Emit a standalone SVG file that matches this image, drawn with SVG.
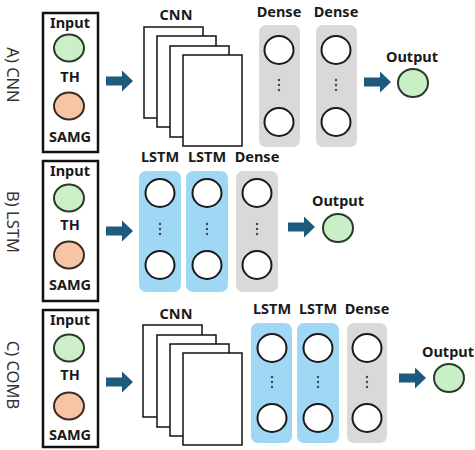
<svg xmlns="http://www.w3.org/2000/svg" xmlns:xlink="http://www.w3.org/1999/xlink" width="475" height="450" viewBox="0 0 475 450">
<style>
.t{font-family:"Noto Sans","Open Sans","Liberation Sans",sans-serif;font-weight:bold;font-size:14.5px;fill:#1a1a1a;text-anchor:middle}
.side{font-family:"Noto Sans","Open Sans","Liberation Sans",sans-serif;font-size:16.5px;fill:#333;text-anchor:middle;dominant-baseline:central}
.box{fill:#fff;stroke:#111;stroke-width:2.5}
.in{fill:#cdefc8;stroke:#2a3a2a;stroke-width:2}
.sg{fill:#f7c4a5;stroke:#3a2a22;stroke-width:2}
.out{fill:#c9efc6;stroke:#2a3a2a;stroke-width:2}
.cnn{fill:#fff;stroke:#111;stroke-width:1.5}
.dense{fill:#d9d9d9}
.lstm{fill:#a0d7f5}
.nd{fill:#fff;stroke:#1a1a1a;stroke-width:2}
.dot{fill:#3a4a5a}
.arr{fill:#1c5b7d}
</style>
<defs>
<path id="arrow" d="M0,-4.5 H16 V-10.5 L27,0 L16,10.5 V4.5 H0 Z"/>
<g id="dots"><circle cx="0" cy="-5" r="1.2"/><circle cx="0" cy="0" r="1.2"/><circle cx="0" cy="5" r="1.2"/></g>
</defs>

<!-- Panel A -->
<g id="labelA"><text class="side" transform="translate(13,75) rotate(90)">A) CNN</text></g>
<g id="inputA">
<rect class="box" x="43" y="13" width="55" height="139"/>
<text class="t" x="70" y="28">Input</text>
<ellipse class="in" cx="69" cy="48" rx="15" ry="13.5"/>
<text class="t" x="70" y="82">TH</text>
<ellipse class="sg" cx="69" cy="106" rx="15" ry="13.5"/>
<text class="t" x="70" y="142">SAMG</text>
</g>
<g id="cnnA">
<text class="t" x="176" y="20">CNN</text>
<rect class="cnn" x="144" y="27" width="59" height="91"/>
<rect class="cnn" x="157" y="36" width="59" height="91"/>
<rect class="cnn" x="170" y="46" width="59" height="91"/>
<rect class="cnn" x="183" y="55" width="59" height="91"/>
</g>
<g id="denseA1">
<text class="t" x="279" y="17">Dense</text>
<rect class="dense" x="259" y="25" width="41" height="122" rx="7"/>
<ellipse class="nd" cx="279" cy="50" rx="14.5" ry="14"/>
<use xlink:href="#dots" x="279" y="85" class="dot"/>
<ellipse class="nd" cx="279" cy="122" rx="14.5" ry="14"/>
</g>
<g id="denseA2">
<text class="t" x="336" y="17">Dense</text>
<rect class="dense" x="316" y="25" width="41" height="122" rx="7"/>
<ellipse class="nd" cx="336" cy="50" rx="14.5" ry="14"/>
<use xlink:href="#dots" x="336" y="85" class="dot"/>
<ellipse class="nd" cx="336" cy="122" rx="14.5" ry="14"/>
</g>
<g id="outputA">
<text class="t" x="412" y="62">Output</text>
<ellipse class="out" cx="413" cy="83" rx="15" ry="14"/>
</g>

<!-- Panel B -->
<g id="labelB"><text class="side" transform="translate(13,222) rotate(90)">B) LSTM</text></g>
<g id="inputB">
<rect class="box" x="43" y="161" width="55" height="140"/>
<text class="t" x="70" y="176">Input</text>
<ellipse class="in" cx="69" cy="198" rx="15" ry="13.5"/>
<text class="t" x="70" y="230">TH</text>
<ellipse class="sg" cx="69" cy="255" rx="15" ry="13.5"/>
<text class="t" x="70" y="290">SAMG</text>
</g>
<g id="lstmB1">
<text class="t" x="160" y="162">LSTM</text>
<rect class="lstm" x="139" y="171" width="42" height="121" rx="7"/>
<ellipse class="nd" cx="160" cy="193" rx="14.5" ry="14"/>
<use xlink:href="#dots" x="160" y="229" class="dot"/>
<ellipse class="nd" cx="160" cy="265" rx="14.5" ry="14"/>
</g>
<g id="lstmB2">
<text class="t" x="207" y="162">LSTM</text>
<rect class="lstm" x="186" y="171" width="42" height="121" rx="7"/>
<ellipse class="nd" cx="207" cy="193" rx="14.5" ry="14"/>
<use xlink:href="#dots" x="207" y="229" class="dot"/>
<ellipse class="nd" cx="207" cy="265" rx="14.5" ry="14"/>
</g>
<g id="denseB">
<text class="t" x="257" y="162">Dense</text>
<rect class="dense" x="236" y="171" width="42" height="121" rx="7"/>
<ellipse class="nd" cx="257" cy="193" rx="14.5" ry="14"/>
<use xlink:href="#dots" x="257" y="229" class="dot"/>
<ellipse class="nd" cx="257" cy="265" rx="14.5" ry="14"/>
</g>
<g id="outputB">
<text class="t" x="338" y="206">Output</text>
<ellipse class="out" cx="338" cy="228" rx="15" ry="14"/>
</g>

<!-- Panel C -->
<g id="labelC"><text class="side" transform="translate(13,375) rotate(90)">C) COMB</text></g>
<g id="inputC">
<rect class="box" x="43" y="310" width="55" height="137"/>
<text class="t" x="70" y="325">Input</text>
<ellipse class="in" cx="69" cy="348" rx="15" ry="13.5"/>
<text class="t" x="70" y="380">TH</text>
<ellipse class="sg" cx="69" cy="406" rx="15" ry="13.5"/>
<text class="t" x="70" y="440">SAMG</text>
</g>
<g id="cnnC">
<text class="t" x="176" y="319">CNN</text>
<rect class="cnn" x="143" y="325" width="59" height="92"/>
<rect class="cnn" x="157" y="335" width="59" height="92"/>
<rect class="cnn" x="170" y="344" width="59" height="92"/>
<rect class="cnn" x="183" y="353" width="59" height="92"/>
</g>
<g id="lstmC1">
<text class="t" x="272" y="314">LSTM</text>
<rect class="lstm" x="251" y="323" width="41" height="120" rx="7"/>
<ellipse class="nd" cx="272" cy="348" rx="14.5" ry="14"/>
<use xlink:href="#dots" x="272" y="382" class="dot"/>
<ellipse class="nd" cx="272" cy="418" rx="14.5" ry="14"/>
</g>
<g id="lstmC2">
<text class="t" x="318" y="314">LSTM</text>
<rect class="lstm" x="297" y="323" width="42" height="120" rx="7"/>
<ellipse class="nd" cx="318" cy="348" rx="14.5" ry="14"/>
<use xlink:href="#dots" x="318" y="382" class="dot"/>
<ellipse class="nd" cx="318" cy="418" rx="14.5" ry="14"/>
</g>
<g id="denseC">
<text class="t" x="367" y="314">Dense</text>
<rect class="dense" x="347" y="323" width="40" height="120" rx="7"/>
<ellipse class="nd" cx="367" cy="348" rx="14.5" ry="14"/>
<use xlink:href="#dots" x="367" y="382" class="dot"/>
<ellipse class="nd" cx="367" cy="418" rx="14.5" ry="14"/>
</g>
<g id="outputC">
<text class="t" x="448" y="357">Output</text>
<ellipse class="out" cx="449" cy="378" rx="15" ry="14"/>
</g>

<!-- Connectors -->
<g id="connectors" class="arr">
<use xlink:href="#arrow" x="106" y="81"/>
<use xlink:href="#arrow" x="364" y="82"/>
<use xlink:href="#arrow" x="106" y="231"/>
<use xlink:href="#arrow" x="288" y="227"/>
<use xlink:href="#arrow" x="106" y="382"/>
<use xlink:href="#arrow" x="399" y="378"/>
</g>
</svg>
